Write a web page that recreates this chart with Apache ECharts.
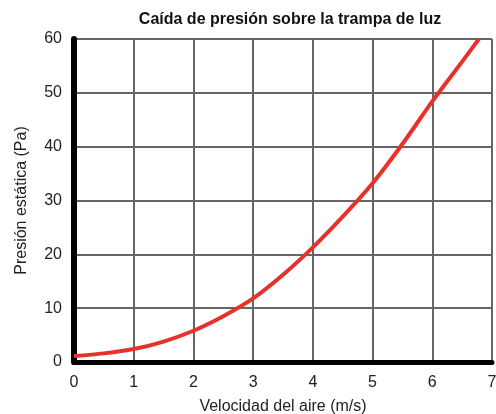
<!DOCTYPE html>
<html>
<head>
<meta charset="utf-8">
<script src="https://cdn.jsdelivr.net/npm/echarts@6/dist/echarts.min.js"></script>
<style>
  html, body { margin: 0; padding: 0; background: #fff; }
  #main { width: 496px; height: 414px; }
</style>
</head>
<body>
<div id="main"></div>
<script>
// velocidad del aire (m/s) y presión estática (Pa)
const velocidad = [0, 0.5, 1, 1.5, 2, 2.5, 3, 3.5, 4, 4.5, 5, 5.5, 6, 6.5, 6.78];
const presion = [1.1, 1.6, 2.4, 3.8, 5.8, 8.5, 11.8, 16.2, 21.3, 27, 33.2, 40.5, 48.4, 55.8, 60];

const titulo = 'Caída de presión sobre la trampa de luz';
const nombreX = 'Velocidad del aire (m/s)';
const nombreY = 'Presión estática (Pa)';

const chart = echarts.init(document.getElementById('main'));

const fuente = 'Liberation Sans, Arial, sans-serif';

let option = {
    animation: false,
    title: {
        text: titulo,
        left: 285,
        textAlign: 'center',
        top: 7,
        textStyle: { fontFamily: fuente, fontSize: 16, fontWeight: 'bold', color: '#111' }
    },
    grid: { left: 74, right: 4, top: 39, bottom: 52, outerBoundsMode: 'none' },
    xAxis: {
        type: 'value',
        min: 0, max: 7, interval: 1,
        name: nombreX,
        nameLocation: 'middle',
        nameGap: 37,
        nameTextStyle: { fontFamily: fuente, fontSize: 16, color: '#222' },
        axisLine: { show: true, lineStyle: { color: '#000', width: 5 } },
        axisTick: { show: false },
        axisLabel: { fontFamily: fuente, fontSize: 16, color: '#222', margin: 13 },
        splitLine: { show: true, lineStyle: { color: '#666', width: 2 } }
    },
    yAxis: {
        type: 'value',
        min: 0, max: 60, interval: 10,
        name: nombreY,
        nameLocation: 'middle',
        nameGap: 44,
        nameTextStyle: { fontFamily: fuente, fontSize: 16, color: '#222' },
        axisLine: { show: true, lineStyle: { color: '#000', width: 6 } },
        axisTick: { show: false },
        axisLabel: { fontFamily: fuente, fontSize: 16, color: '#222', margin: 12 },
        splitLine: { show: true, lineStyle: { color: '#666', width: 2 } }
    },
    series: [
        {
            type: 'line',
            data: velocidad.map((v, i) => [v, presion[i]]),
            smooth: 0.3,
            showSymbol: false,
            lineStyle: { color: '#e8312a', width: 4 },
            z: 5
        }
    ]
};

chart.setOption(option);
</script>
</body>
</html>
